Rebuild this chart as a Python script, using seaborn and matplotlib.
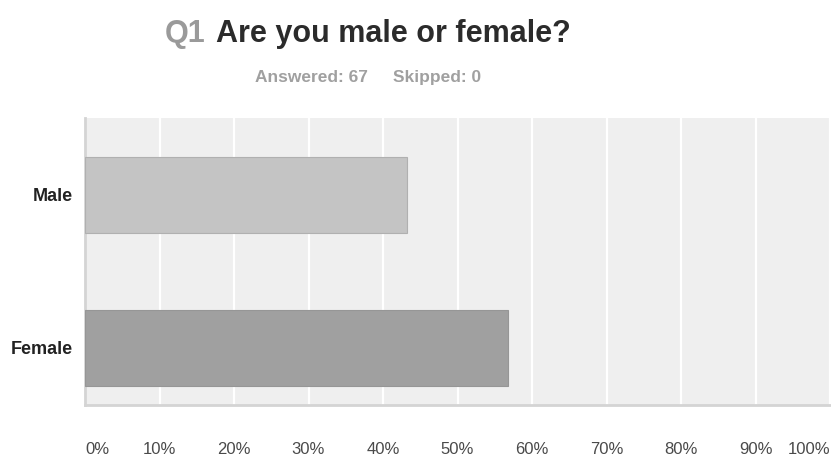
import matplotlib
matplotlib.use("Agg")
import matplotlib.pyplot as plt
import seaborn as sns
import pandas as pd

# Survey results
categories = ["Male", "Female"]
counts = [29, 38]
answered = 67
skipped = 0
bar_colors = ["#c4c4c4", "#a0a0a0"]
tick_values = [0, 10, 20, 30, 40, 50, 60, 70, 80, 90, 100]
tick_labels = [f"{v}%" for v in tick_values]

percent = [c / answered * 100 for c in counts]
df = pd.DataFrame({"category": categories, "percent": percent})

sns.set_theme(style="white")
plt.rcParams["font.family"] = ["Liberation Sans", "DejaVu Sans"]

fig = plt.figure(figsize=(8.31, 4.62), dpi=100)
ax = fig.add_axes([85 / 831, (462 - 405) / 462, (830 - 85) / 831, (405 - 118) / 462])
ax.set_facecolor("#efefef")

sns.barplot(data=df, y="category", x="percent", hue="category",
            palette=bar_colors, orient="h", width=0.5, legend=False,
            edgecolor="#b0b0b0", linewidth=0.8, ax=ax, zorder=3)
# darker outline for the darker bar
ax.patches[1].set_edgecolor("#969696")

ax.set_xlim(0, 100)
ax.set_ylim(1.373, -0.503)
ax.set_xticks(tick_values)
ax.set_xticklabels(tick_labels)
ax.xaxis.grid(True, color="white", linewidth=1.6, zorder=1)
ax.set_axisbelow(True)
ax.set_xlabel("")
ax.set_ylabel("")

for name in ["top", "right"]:
    ax.spines[name].set_visible(False)
for name in ["left", "bottom"]:
    ax.spines[name].set_color("#d4d4d4")
    ax.spines[name].set_linewidth(2)

ax.tick_params(axis="x", length=0, pad=27, labelsize=12, labelcolor="#4a4a4a")
ax.tick_params(axis="y", length=0, pad=9, labelsize=13, labelcolor="#222222")
for lbl in ax.get_yticklabels():
    lbl.set_fontweight("bold")
xt = ax.get_xticklabels()
xt[0].set_horizontalalignment("left")
xt[-1].set_horizontalalignment("right")

# Title: question number in grey, question text in dark bold
fig.text(165 / 831, 1 - 42 / 462, "Q1", fontsize=22, fontweight="bold",
         color="#9a9a9a", ha="left", va="baseline")
fig.text(216 / 831, 1 - 42 / 462, "Are you male or female?", fontsize=22,
         fontweight="bold", color="#2b2b2b", ha="left", va="baseline")

fig.text(255 / 831, 1 - 82 / 462, f"Answered: {answered}", fontsize=12.5,
         fontweight="bold", color="#a0a0a0", ha="left", va="baseline")
fig.text(393 / 831, 1 - 82 / 462, f"Skipped: {skipped}", fontsize=12.5,
         fontweight="bold", color="#a0a0a0", ha="left", va="baseline")

fig.savefig("out.png", dpi=100, facecolor="white")
